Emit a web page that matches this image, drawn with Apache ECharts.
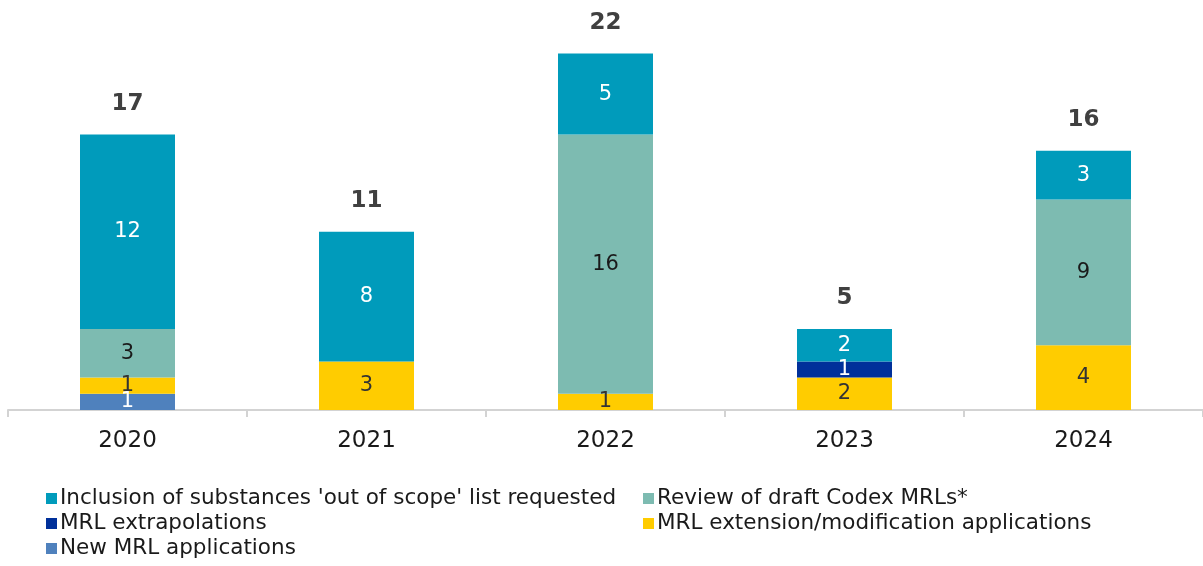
<!DOCTYPE html>
<html><head><meta charset="utf-8">
<script src="https://cdn.jsdelivr.net/npm/echarts@6/dist/echarts.min.js"></script>
<style>html,body{margin:0;padding:0;background:#fff}#c{width:1203px;height:566px}</style>
</head><body><div id="c"></div>
<script>
const categories = ['2020', '2021', '2022', '2023', '2024'];
const newMrl = [1, 0, 0, 0, 0];
const extension = [1, 3, 1, 2, 4];
const extrapolations = [0, 0, 0, 1, 0];
const codex = [3, 0, 16, 0, 9];
const inclusion = [12, 8, 5, 2, 3];

const names = {
  newMrl: 'New MRL applications',
  extension: 'MRL extension/modification applications',
  extrapolations: 'MRL extrapolations',
  codex: 'Review of draft Codex MRLs*',
  inclusion: "Inclusion of substances 'out of scope' list requested"
};
const totals = categories.map((c, i) => newMrl[i] + extension[i] + extrapolations[i] + codex[i] + inclusion[i]);

const FONT = 'DejaVu Sans';
function seg(name, data, color, labelColor) {
  return {
    name, type: 'bar', stack: 's', data: data.map(v => v === 0 ? null : v),
    barWidth: 95, itemStyle: { color },
    label: { show: true, position: 'inside', color: labelColor, fontFamily: FONT, fontSize: 21 }
  };
}
const legendText = { fontFamily: FONT, fontSize: 21.5, lineHeight: 25, color: '#1a1a1a', padding: [0, 0, 0, -2] };
const chart = echarts.init(document.getElementById('c'));
chart.setOption({
  animation: false,
  grid: { left: 8, right: 0, top: 5, bottom: 156 },
  xAxis: {
    type: 'category', data: categories,
    axisLine: { lineStyle: { color: '#d3d3d3', width: 2 } },
    axisTick: { show: true, length: 7, lineStyle: { color: '#d3d3d3', width: 2 } },
    axisLabel: { color: '#1a1a1a', fontFamily: FONT, fontSize: 23, margin: 20 }
  },
  yAxis: { type: 'value', min: 0, max: 25, show: false, splitLine: { show: false } },
  legend: [
    {
      orient: 'vertical', left: 46, top: 486, padding: 0, itemGap: 0, itemWidth: 11, itemHeight: 11,
      height: 80, icon: 'rect', textStyle: legendText,
      data: [names.inclusion, names.extrapolations, names.newMrl]
    },
    {
      orient: 'vertical', left: 643, top: 486, padding: 0, itemGap: 0, itemWidth: 11, itemHeight: 11,
      height: 80, icon: 'rect', textStyle: legendText,
      data: [names.codex, names.extension]
    }
  ],
  series: [
    seg(names.newMrl, newMrl, '#4F81BD', '#ffffff'),
    seg(names.extension, extension, '#FFCC00', '#333333'),
    seg(names.extrapolations, extrapolations, '#00309A', '#ffffff'),
    seg(names.codex, codex, '#7DBBB1', '#1a1a1a'),
    seg(names.inclusion, inclusion, '#009BBB', '#ffffff'),
    {
      name: 'Total', type: 'bar', stack: 's', data: totals.map(() => 0), barWidth: 95,
      itemStyle: { color: 'transparent' },
      label: {
        show: true, position: 'top', distance: 19,
        formatter: p => totals[p.dataIndex],
        color: '#404040', fontFamily: FONT, fontSize: 23, fontWeight: 'bold'
      }
    }
  ]
});
</script></body></html>
